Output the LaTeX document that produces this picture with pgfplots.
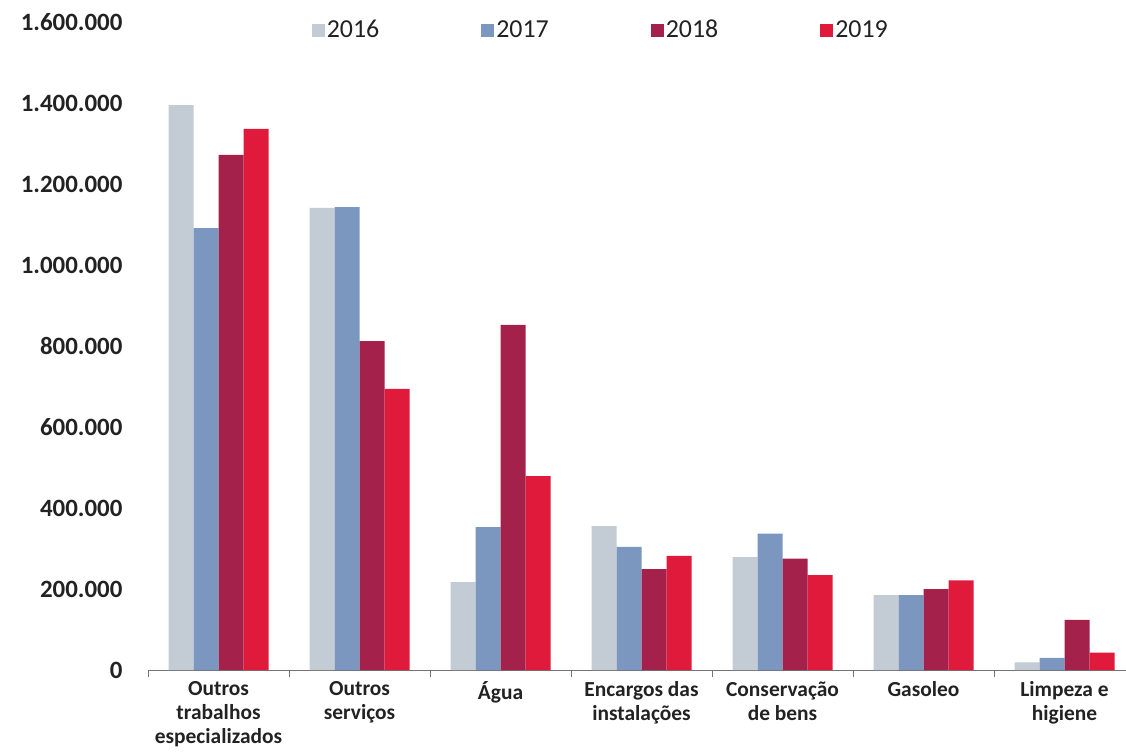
\documentclass[border=0pt]{standalone}
\usepackage{fontspec}
\setmainfont{Carlito}
\usepackage{pgfplots}
\pgfplotsset{compat=1.18}
\definecolor{c16}{HTML}{C3CBD4}
\definecolor{c17}{HTML}{7B97C0}
\definecolor{c18}{HTML}{A3214B}
\definecolor{c19}{HTML}{DF1A3A}
\definecolor{txt}{HTML}{222222}
\begin{document}
\begin{tikzpicture}
\path[use as bounding box] (-148bp,-82bp) rectangle (978bp,670bp);
\begin{axis}[
  at={(0,0)}, anchor=south west,
  scale only axis,
  width=978bp, height=648bp,
  xmin=-0.5, xmax=6.436,
  ymin=0, ymax=1600000,
  ybar=0pt, bar width=25bp,
  clip=false,
  axis lines*=left,
  y axis line style={draw=none},
  x axis line style={draw=black!55, line width=0.8pt},
  ytick={0,200000,...,1600000},
  ytick style={draw=none},
  scaled y ticks=false,
  /pgf/number format/fixed,
  /pgf/number format/1000 sep={.},
  /pgf/number format/assume math mode=true,
  y tick label style={font=\bfseries\fontsize{25}{25}\selectfont, text=txt, xshift=-22bp},
  xtick={0,1,2,3,4,5,6},
  xticklabels={{Outros\\trabalhos\\especializados},{Outros\\serviços},{Água},{Encargos das\\instalações},{Conservação\\de bens},{Gasoleo},{Limpeza e\\higiene}},
  xtick style={draw=none},
  x tick label style={font=\bfseries\fontsize{21.5}{24}\selectfont, text=txt, align=center, anchor=north, yshift=-4bp},
  extra x ticks={-0.5,0.5,1.5,2.5,3.5,4.5,5.5},
  extra x tick labels={},
  extra x tick style={xtick style={draw=black!55, line width=0.8pt}, tick align=outside, major tick length=7bp},
  legend style={draw=none, fill=none, at={(0.463,0.988)}, anchor=center,
    font=\fontsize{26}{26}\selectfont, text=txt,
    /tikz/every even column/.append style={column sep=100bp}},
  legend columns=4,
  legend image code/.code={\fill[#1] (0bp,-7bp) rectangle (13bp,6bp);},
]
\addplot[fill=c16, draw=none] coordinates {(0,1395000) (1,1141000) (2,217000) (3,355000) (4,279000) (5,185000) (6,19000)};
\addplot[fill=c17, draw=none] coordinates {(0,1091000) (1,1143000) (2,353000) (3,304000) (4,337000) (5,185000) (6,30000)};
\addplot[fill=c18, draw=none] coordinates {(0,1272000) (1,812000) (2,852000) (3,249000) (4,275000) (5,200000) (6,124000)};
\addplot[fill=c19, draw=none] coordinates {(0,1336000) (1,694000) (2,479000) (3,282000) (4,234000) (5,221000) (6,43000)};
\legend{2016,2017,2018,2019}
\end{axis}
\end{tikzpicture}
\end{document}
